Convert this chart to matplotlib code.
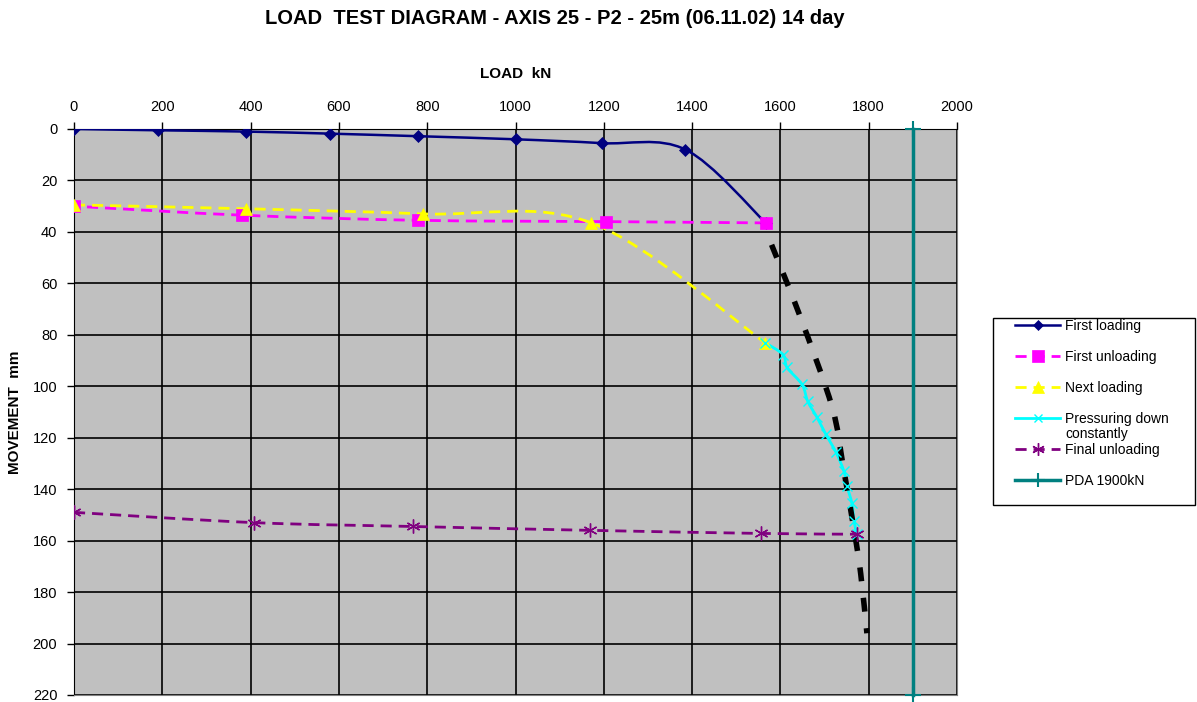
import numpy as np
import matplotlib
matplotlib.use('Agg')
import matplotlib.pyplot as plt
from matplotlib.path import Path
from matplotlib.patches import PathPatch, Rectangle
from matplotlib.lines import Line2D

plt.rcParams['font.family'] = 'Liberation Sans'

# values: load in kN, movement in mm
first_load_x = [0, 190, 390, 580, 780, 1000, 1195, 1385, 1567]
first_load_y = [0, 0.5, 1, 1.8, 2.8, 4, 5.5, 8, 36.5]

first_unload_x = [1567, 1205, 780, 380, 0]
first_unload_y = [36.5, 36, 35.5, 33.5, 30]

next_load_x = [0, 390, 790, 1172, 1565]
next_load_y = [29.5, 31, 33, 36.5, 83]

press_x = [1565, 1606, 1615, 1649, 1662, 1683, 1703, 1726, 1744, 1751, 1762, 1767, 1773]
press_y = [83, 87.7, 92.7, 99.3, 105.9, 112.1, 118.7, 125.7, 133.1, 138.9, 145.5, 152.5, 157.5]

final_unload_x = [0, 408, 768, 1169, 1556, 1773]
final_unload_y = [149, 153, 154.5, 156, 157.2, 157.5]

trend_x = [1580, 1645, 1717, 1742, 1768, 1782, 1796]
trend_y = [45, 73, 108, 131, 157, 173, 196]

pda_x = [1900, 1900]
pda_y = [0, 220]

labels = ['First loading', 'First unloading', 'Next loading',
          'Pressuring down', 'Final unloading', 'PDA 1900kN']


def smooth_path(x, y):
    # excel style smoothed line (catmull-rom as cubic bezier)
    p = np.column_stack([x, y]).astype(float)
    n = len(p)
    verts = [p[0]]
    codes = [Path.MOVETO]
    for i in range(n - 1):
        p0 = p[i - 1] if i > 0 else p[i]
        p3 = p[i + 2] if i + 2 < n else p[i + 1]
        verts += [p[i] + (p[i + 1] - p0) / 6, p[i + 1] - (p3 - p[i]) / 6, p[i + 1]]
        codes += [Path.CURVE4] * 3
    return Path(verts, codes)


W, H = 1197, 702
fig = plt.figure(figsize=(W / 100, H / 100), dpi=100)
ax = fig.add_axes([74 / W, 1 - 695 / H, (957 - 74) / W, (695 - 129) / H])
ax.set_facecolor('#C0C0C0')

series = [
    (first_load_x, first_load_y, dict(color='#000080', ls='-', lw=1.8, marker='D', ms=6)),
    (first_unload_x, first_unload_y, dict(color='#FF00FF', ls=(0, (4, 2.5)), lw=2, marker='s', ms=9)),
    (next_load_x, next_load_y, dict(color='#FFFF00', ls=(0, (4, 2.5)), lw=2, marker='^', ms=9)),
    (press_x, press_y, dict(color='#00FFFF', ls='-', lw=2, marker='x', ms=7)),
    (final_unload_x, final_unload_y, dict(color='#800080', ls=(0, (4, 2.5)), lw=2, marker=(6, 2, 0), ms=10)),
]

handles = []
for x, y, st in series:
    ax.add_patch(PathPatch(smooth_path(x, y), fill=False, edgecolor=st['color'],
                           ls=st['ls'], lw=st['lw'], zorder=3))
    mew = 1 if st['marker'] in ('x',) or isinstance(st['marker'], tuple) else 0.5
    ax.plot(x, y, ls='none', marker=st['marker'], ms=st['ms'], color=st['color'],
            mec=st['color'], mew=mew, zorder=4)
    handles.append(Line2D([], [], color=st['color'], ls=st['ls'], lw=st['lw'],
                          marker=st['marker'], ms=st['ms'] * 0.9, mew=mew))

ax.add_patch(PathPatch(smooth_path(trend_x, trend_y), fill=False, edgecolor='black',
                       ls=(0, (2.5, 3)), lw=4, zorder=3))

ax.plot(pda_x, pda_y, color='#008080', lw=2.5, marker='+', ms=12, mew=1.5, zorder=3, clip_on=False)
handles.append(Line2D([], [], color='#008080', lw=2.5, marker='+', ms=10, mew=1.5))

ax.set_xlim(0, 2000)
ax.set_ylim(220, 0)
ax.set_xticks(range(0, 2001, 200))
ax.set_yticks(range(0, 221, 20))
ax.xaxis.tick_top()
ax.xaxis.set_label_position('top')
ax.tick_params(axis='x', length=5, width=1, pad=6, labelsize=10.5)
ax.tick_params(axis='y', length=5, width=1, pad=7, labelsize=10.5)
ax.grid(True, color='black', lw=1.2)
ax.set_axisbelow(True)
ax.spines['top'].set_color('black')
ax.spines['left'].set_color('black')
ax.spines['right'].set_color('#808080')
ax.spines['bottom'].set_color('#808080')

ax.set_xlabel('LOAD  kN', fontsize=11, fontweight='bold', labelpad=16)
ax.set_ylabel('MOVEMENT  mm', fontsize=11, fontweight='bold', labelpad=8)

fig.text(555 / W, 1 - 19 / H, 'LOAD  TEST DIAGRAM - AXIS 25 - P2 - 25m (06.11.02) 14 day',
         ha='center', va='center', fontsize=14.5, fontweight='bold')

leg = fig.legend(handles, labels, loc='upper left', bbox_to_anchor=(1015 / W, 1 - 319 / H),
                 frameon=False, fontsize=10, handlelength=3.25, labelspacing=1.22,
                 borderpad=0, borderaxespad=0, handletextpad=0.35)
fig.add_artist(Rectangle((993 / W, 1 - 505 / H), (1195 - 993) / W, (505 - 318) / H,
                         transform=fig.transFigure, fill=False, edgecolor='black', lw=1))

fig.canvas.draw()
bb = leg.get_texts()[3].get_window_extent()
fig.text(bb.x0 / W, (bb.y0 - 1) / H, 'constantly', ha='left', va='top', fontsize=10)

fig.savefig('out.png', dpi=100)
